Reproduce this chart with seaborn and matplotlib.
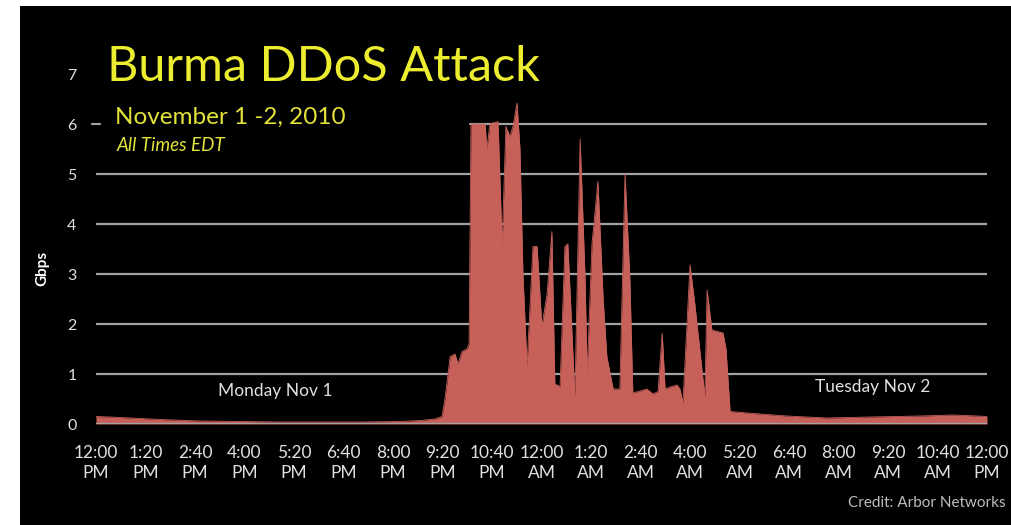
import numpy as np
import pandas as pd
import matplotlib
matplotlib.use("Agg")
import matplotlib.pyplot as plt
import seaborn as sns

# Hours elapsed since 12:00 PM Monday, Nov 1 2010 (EDT)
hours = [0.00, 0.38, 0.92, 1.72, 2.80, 3.88, 4.96, 6.03, 7.11, 8.19, 8.73, 9.13,
         9.32, 9.40, 9.54, 9.67, 9.75, 9.86, 9.99, 10.05, 10.10, 10.48, 10.53,
         10.61, 10.83, 10.94, 11.04, 11.15, 11.23, 11.34, 11.42, 11.50, 11.61,
         11.77, 11.88, 12.01, 12.15, 12.28, 12.36, 12.50, 12.63, 12.71, 12.90,
         13.04, 13.17, 13.23, 13.36, 13.52, 13.66, 13.76, 13.93, 14.11, 14.25,
         14.38, 14.46, 14.65, 14.84, 15.00, 15.14, 15.25, 15.33, 15.46, 15.65,
         15.73, 15.81, 16.00, 16.13, 16.40, 16.46, 16.59, 16.89, 16.97, 17.08,
         17.54, 18.61, 19.69, 20.85, 22.20, 23.08, 23.73, 24.00]

# Traffic volume in Gbps
gbps = [0.15, 0.14, 0.12, 0.09, 0.06, 0.05, 0.04, 0.04, 0.04, 0.05, 0.07, 0.10,
        0.15, 0.50, 1.35, 1.40, 1.20, 1.45, 1.50, 1.60, 6.00, 6.00, 5.50,
        6.00, 6.05, 3.55, 5.95, 5.75, 5.95, 6.42, 5.50, 3.00, 1.15,
        3.55, 3.55, 1.95, 2.60, 3.85, 0.80, 0.75, 3.55, 3.60, 0.55,
        5.70, 3.00, 1.00, 3.60, 4.85, 2.50, 1.35, 0.70, 0.70, 5.00,
        2.90, 0.62, 0.66, 0.70, 0.60, 0.65, 1.82, 0.70, 0.74, 0.78,
        0.70, 0.42, 3.18, 2.40, 0.55, 2.68, 1.88, 1.82, 1.50, 0.25,
        0.22, 0.16, 0.12, 0.14, 0.16, 0.18, 0.16, 0.15]

tick_hours = [i * 4 / 3 for i in range(19)]
tick_labels = ["12:00\nPM", "1:20\nPM", "2:40\nPM", "4:00\nPM", "5:20\nPM",
               "6:40\nPM", "8:00\nPM", "9:20\nPM", "10:40\nPM", "12:00\nAM",
               "1:20\nAM", "2:40\nAM", "4:00\nAM", "5:20\nAM", "6:40\nAM",
               "8:00\nAM", "9:20\nAM", "10:40\nAM", "12:00\nPM"]
y_ticks = [0, 1, 2, 3, 4, 5, 6, 7]

sns.set_theme(style="dark")
plt.rcParams["font.family"] = ["Lato", "DejaVu Sans"]

df = pd.DataFrame({"hours": hours, "gbps": gbps})

FILL = "#C8605A"
GRID = "#a3a3a3"
TEXT = "#e0e0e0"
YELLOW = "#EDED30"

fig = plt.figure(figsize=(10.11, 5.25), dpi=100, facecolor="white")
# black slide background
fig.patches.append(plt.Rectangle((20 / 1011, 0), 1 - 20 / 1011, 1 - 6 / 525,
                                 transform=fig.transFigure, facecolor="black",
                                 edgecolor="none", zorder=-5))

ax = fig.add_axes([96 / 1011, (525 - 424) / 525, 891 / 1011, 350 / 525])
ax.set_zorder(2)
ax.patch.set_alpha(0)
for s in ax.spines.values():
    s.set_visible(False)
ax.grid(False)

# horizontal guide lines
for v in [0, 1, 2, 3, 4, 5]:
    ax.axhline(v, color=GRID, lw=1.6, zorder=1)
ax.axhline(6, xmin=-0.004, xmax=0.005, color=GRID, lw=1.6, zorder=1, clip_on=False)
ax.axhline(6, xmin=0.42, xmax=1.0, color=GRID, lw=1.6, zorder=1)

ax.fill_between(df["hours"], 0, df["gbps"], color=FILL, lw=0, zorder=2)
sns.lineplot(data=df, x="hours", y="gbps", ax=ax, color=FILL, lw=0.6, zorder=3)
ax.axhline(0, color=GRID, lw=1.6, zorder=4)

ax.set_xlim(0, 24)
ax.set_ylim(0, 7)
ax.set_xticks(tick_hours)
ax.set_xticklabels(tick_labels, linespacing=1.35)
ax.set_yticks(y_ticks)
ax.set_yticklabels([str(t) for t in y_ticks])
ax.tick_params(axis="x", colors=TEXT, labelsize=12.5, length=0, pad=15)
ax.tick_params(axis="y", colors=TEXT, labelsize=11.5, length=0, pad=14)
ax.set_xlabel("")
ax.set_ylabel("")

ax.text(4.82, 0.66, "Monday Nov 1", color=TEXT, fontsize=12.5, ha="center", va="center")
ax.text(20.93, 0.74, "Tuesday Nov 2", color=TEXT, fontsize=12.5, ha="center", va="center")

fig.text(42 / 1011, 1 - 268 / 525, "Gbps", rotation=90, color="white",
         fontsize=11, fontweight="bold", ha="center", va="center")

fig.text(107 / 1011, 1 - 81 / 525, "Burma DDoS Attack", color=YELLOW,
         fontsize=35, ha="left", va="baseline")
fig.text(115 / 1011, 1 - 124 / 525, "November 1 -2, 2010", color="#E2E23A",
         fontsize=17.5, ha="left", va="baseline")
fig.text(117 / 1011, 1 - 151 / 525, "All Times EDT", color="#E2E23A",
         fontsize=13.5, style="italic", ha="left", va="baseline")

fig.text(1006 / 1011, 1 - 503 / 525, "Credit: Arbor Networks", color="#bdbdbd",
         fontsize=11, ha="right", va="center")

fig.savefig("out.png", dpi=100, facecolor="white")
